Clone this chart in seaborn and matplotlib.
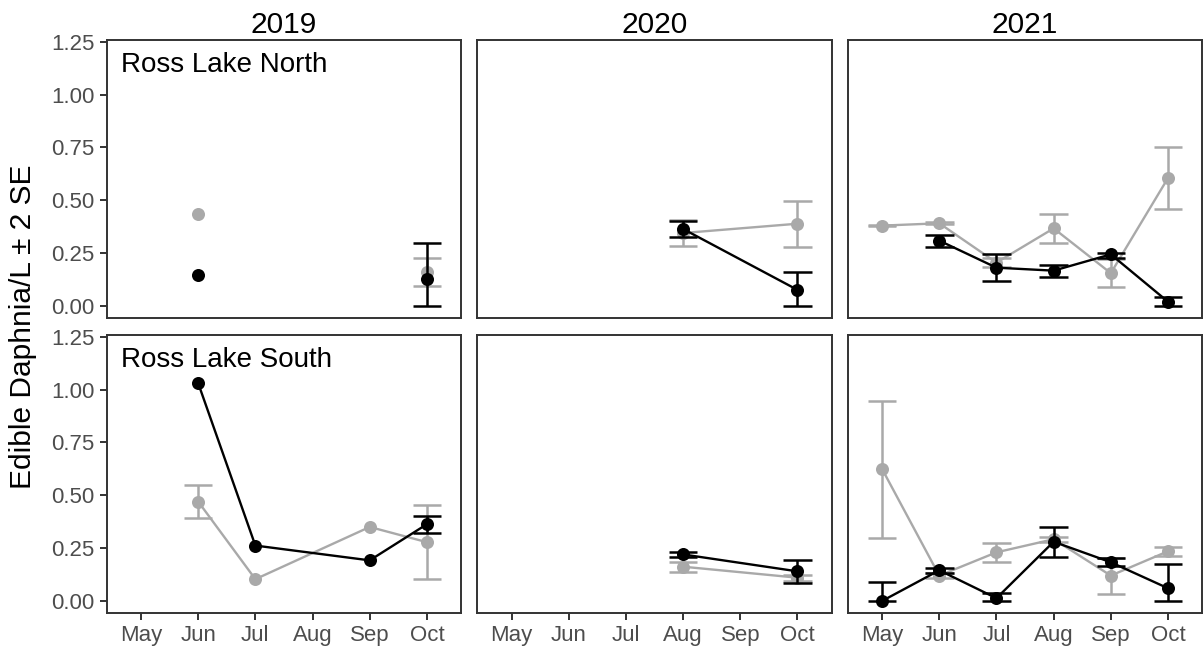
import numpy as np
import pandas as pd
import matplotlib
matplotlib.use("Agg")
import matplotlib.pyplot as plt
import seaborn as sns

nan = np.nan

months = ["May", "Jun", "Jul", "Aug", "Sep", "Oct"]
years = [2019, 2020, 2021]
sites = ["Ross Lake North", "Ross Lake South"]
y_ticks = [0.00, 0.25, 0.50, 0.75, 1.00, 1.25]

# Each panel: sampled months plus mean and +/- 2 SE limits for two series.
# NaN in a month keeps the line from being drawn across that month.

# Ross Lake North, 2019
n19_month = ["Jun", "Jul", "Aug", "Sep", "Oct"]
n19_s1_mean = [0.145, nan, nan, nan, 0.126]
n19_s1_lo = [nan, nan, nan, nan, 0.000]
n19_s1_hi = [nan, nan, nan, nan, 0.296]
n19_s2_mean = [0.436, nan, nan, nan, 0.162]
n19_s2_lo = [nan, nan, nan, nan, 0.095]
n19_s2_hi = [nan, nan, nan, nan, 0.225]

# Ross Lake North, 2020
n20_month = ["Aug", "Oct"]
n20_s1_mean = [0.364, 0.076]
n20_s1_lo = [0.326, 0.000]
n20_s1_hi = [0.402, 0.159]
n20_s2_mean = [0.345, 0.389]
n20_s2_lo = [0.284, 0.279]
n20_s2_hi = [0.406, 0.496]

# Ross Lake North, 2021
n21_month = ["May", "Jun", "Jul", "Aug", "Sep", "Oct"]
n21_s1_mean = [nan, 0.309, 0.181, 0.167, 0.244, 0.020]
n21_s1_lo = [nan, 0.280, 0.120, 0.138, 0.228, 0.000]
n21_s1_hi = [nan, 0.336, 0.246, 0.194, 0.252, 0.041]
n21_s2_mean = [0.380, 0.391, 0.205, 0.367, 0.155, 0.605]
n21_s2_lo = [0.376, 0.386, 0.182, 0.299, 0.088, 0.457]
n21_s2_hi = [0.384, 0.396, 0.228, 0.436, 0.222, 0.750]

# Ross Lake South, 2019
s19_month = ["Jun", "Jul", "Sep", "Oct"]
s19_s1_mean = [1.030, 0.262, 0.192, 0.363]
s19_s1_lo = [nan, nan, nan, 0.323]
s19_s1_hi = [nan, nan, nan, 0.404]
s19_s2_mean = [0.470, 0.103, 0.350, 0.278]
s19_s2_lo = [0.391, nan, nan, 0.103]
s19_s2_hi = [0.549, nan, nan, 0.453]

# Ross Lake South, 2020
s20_month = ["Aug", "Oct"]
s20_s1_mean = [0.220, 0.140]
s20_s1_lo = [0.208, 0.087]
s20_s1_hi = [0.232, 0.193]
s20_s2_mean = [0.162, 0.110]
s20_s2_lo = [0.136, 0.096]
s20_s2_hi = [0.186, 0.123]

# Ross Lake South, 2021
s21_month = ["May", "Jun", "Jul", "Aug", "Sep", "Oct"]
s21_s1_mean = [0.000, 0.145, 0.013, 0.280, 0.183, 0.060]
s21_s1_lo = [0.000, 0.132, 0.000, 0.210, 0.167, 0.000]
s21_s1_hi = [0.091, 0.156, 0.036, 0.349, 0.202, 0.174]
s21_s2_mean = [0.624, 0.120, 0.230, 0.292, 0.120, 0.235]
s21_s2_lo = [0.297, 0.110, 0.186, 0.281, 0.035, 0.214]
s21_s2_hi = [0.948, 0.130, 0.273, 0.304, 0.205, 0.257]

panels = {
    ("Ross Lake North", 2019): (n19_month, (n19_s1_mean, n19_s1_lo, n19_s1_hi), (n19_s2_mean, n19_s2_lo, n19_s2_hi)),
    ("Ross Lake North", 2020): (n20_month, (n20_s1_mean, n20_s1_lo, n20_s1_hi), (n20_s2_mean, n20_s2_lo, n20_s2_hi)),
    ("Ross Lake North", 2021): (n21_month, (n21_s1_mean, n21_s1_lo, n21_s1_hi), (n21_s2_mean, n21_s2_lo, n21_s2_hi)),
    ("Ross Lake South", 2019): (s19_month, (s19_s1_mean, s19_s1_lo, s19_s1_hi), (s19_s2_mean, s19_s2_lo, s19_s2_hi)),
    ("Ross Lake South", 2020): (s20_month, (s20_s1_mean, s20_s1_lo, s20_s1_hi), (s20_s2_mean, s20_s2_lo, s20_s2_hi)),
    ("Ross Lake South", 2021): (s21_month, (s21_s1_mean, s21_s1_lo, s21_s1_hi), (s21_s2_mean, s21_s2_lo, s21_s2_hi)),
}

# Long-format table for plotting
rows = []
for (site, year), (mlist, s1, s2) in panels.items():
    for series, (mean, lo, hi) in (("s1", s1), ("s2", s2)):
        for i, m in enumerate(mlist):
            rows.append(dict(site=site, year=year, series=series, month=m,
                             x=months.index(m), mean=mean[i], lo=lo[i], hi=hi[i], order=i))
df = pd.DataFrame(rows)

sns.set_style("white")
plt.rcParams["font.family"] = ["Liberation Sans", "DejaVu Sans"]

colors = {"s1": "#000000", "s2": "#A9A9A9"}
draw_order = ["s2", "s1"]
frame_col = "#333333"
label_col = "#4D4D4D"

W, H = 1203, 652
fig = plt.figure(figsize=(W / 100, H / 100), dpi=100)

col_left = [106.7, 477.3, 847.8]
col_w = 354.5
row_top = [40.0, 335.0]
row_h = 278.0

cap_half = 0.25
line_w = 1.7
err_w = 1.8
pt_size = 88

for r, site in enumerate(sites):
    for c, year in enumerate(years):
        ax = fig.add_axes([col_left[c] / W, 1 - (row_top[r] + row_h) / H,
                           col_w / W, row_h / H])
        sub = df[(df.site == site) & (df.year == year)]
        for z, series in enumerate(draw_order):
            col = colors[series]
            d = sub[sub.series == series].sort_values("order").copy()
            d["run"] = d["mean"].isna().cumsum()
            pts = d.dropna(subset=["mean"])
            base = 2 + z * 3
            if len(pts) > 1:
                sns.lineplot(data=pts, x="x", y="mean", units="run", estimator=None,
                             color=col, lw=line_w, sort=False, legend=False, ax=ax,
                             zorder=base)
            eb = d.dropna(subset=["lo", "hi"])
            if len(eb):
                ax.vlines(eb["x"], eb["lo"], eb["hi"], color=col, lw=err_w, zorder=base + 1)
                for lim in ("lo", "hi"):
                    ax.hlines(eb[lim], eb["x"] - cap_half, eb["x"] + cap_half,
                              color=col, lw=err_w, zorder=base + 1)
            sns.scatterplot(data=pts, x="x", y="mean", color=col, s=pt_size,
                            linewidth=0, legend=False, ax=ax, zorder=base + 2)

        ax.set_xlim(-0.6, len(months) - 0.4)
        ax.set_ylim(-0.057, 1.258)
        ax.set_xticks(range(len(months)))
        ax.set_yticks(y_ticks)
        ax.set_xlabel("")
        ax.set_ylabel("")
        for sp in ax.spines.values():
            sp.set_visible(True)
            sp.set_color(frame_col)
            sp.set_linewidth(1.4)
        ax.tick_params(direction="out", length=4.7, width=1.4, color=frame_col,
                       labelcolor=label_col, labelsize=16, pad=4.0,
                       bottom=True, left=True)
        if r == len(sites) - 1:
            ax.set_xticklabels(months)
        else:
            ax.tick_params(axis="x", bottom=False, labelbottom=False)
        if c == 0:
            ax.set_yticklabels([f"{v:.2f}" for v in y_ticks])
            ax.text(0.04, 0.884, site, transform=ax.transAxes, fontsize=20,
                    color="black", ha="left", va="baseline")
        else:
            ax.tick_params(axis="y", left=False, labelleft=False)
        if r == 0:
            ax.set_title(str(year), fontsize=21.5, color="black", pad=5)

fig.text(23 / W, 1 - 326.5 / H, "Edible Daphnia/L \u00b1 2 SE", rotation=90,
         ha="center", va="center", fontsize=21.5, color="black")

fig.savefig("out.png", dpi=100)
